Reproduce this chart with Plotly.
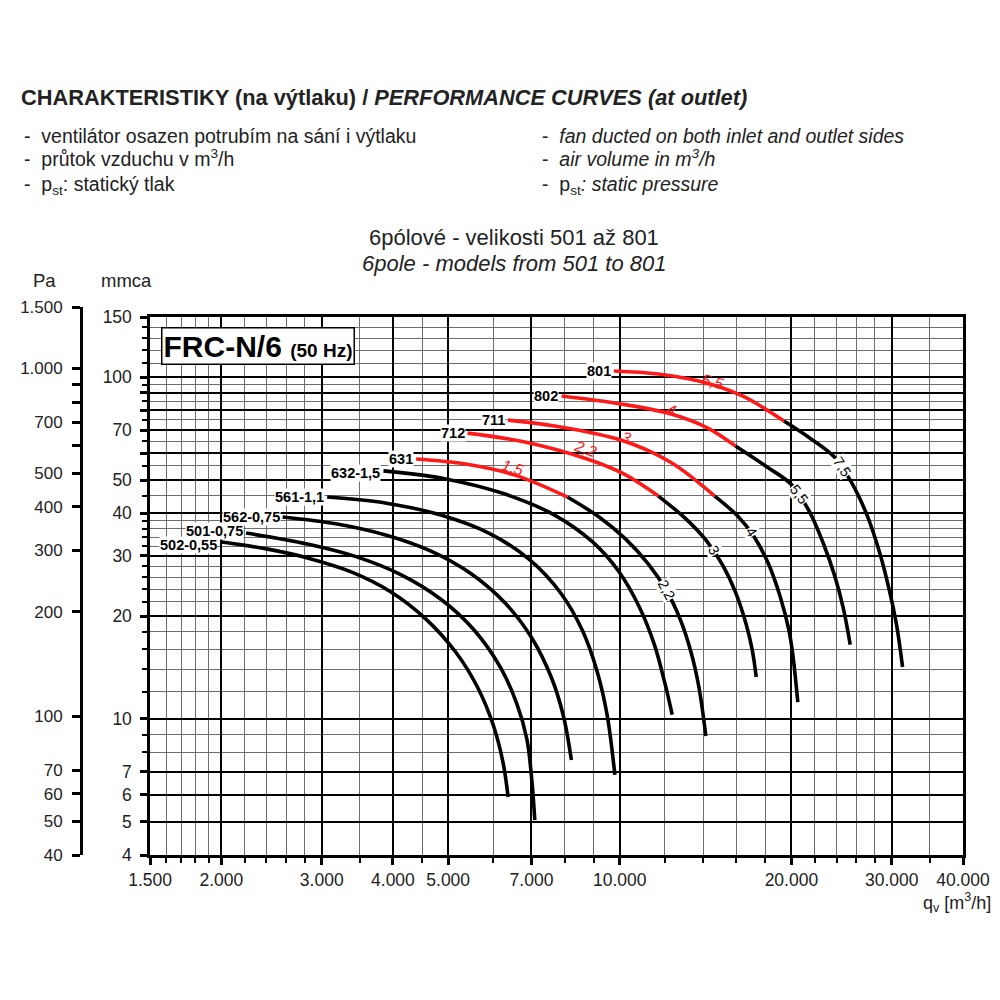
import math
import plotly.graph_objects as go

# ---------------- data (q in m3/h, p in mmca) ----------------
q_502 = [1992, 2413, 2831, 3388, 3975, 4571, 5153, 5627, 5998, 6242, 6369]
p_502 = [33.0, 31.4, 29.6, 26.9, 23.5, 19.6, 15.7, 12.4, 9.6, 7.44, 5.91]

q_501 = [2210, 2831, 3456, 4137, 4854, 5537, 6168, 6601, 6870, 7009, 7094]
p_501 = [35.0, 32.5, 29.8, 26.4, 22.4, 18.3, 14.2, 11.06, 8.74, 6.63, 5.06]

q_562 = [2562, 3192, 3897, 4664, 5471, 6293, 7009, 7592, 7964, 8224]
p_562 = [39.0, 37.2, 34.5, 31.0, 26.7, 21.85, 17.26, 13.18, 10.2, 7.59]

q_561 = [3067, 3897, 4854, 5926, 6953, 7870, 8592, 9123, 9495, 9804]
p_561 = [44.6, 42.8, 39.5, 34.8, 29.2, 23.4, 18.2, 13.8, 10.34, 6.86]

q_632 = [3850, 4952, 6293, 7684, 8970, 9961, 10830, 11500, 12016, 12357]
p_632 = [53.2, 50.4, 45.5, 39.5, 32.9, 27.0, 21.2, 16.5, 12.6, 10.3]

q_631_red = [4393, 5364, 6549, 8093]
p_631_red = [57.6, 55.7, 51.7, 44.6]
q_631_blk = [8093, 9196, 10243, 11226, 12069, 12760, 13333, 13764, 14156]
p_631_blk = [44.6, 39.0, 33.6, 28.4, 23.8, 19.6, 15.7, 12.4, 8.92]

q_712_red = [5407, 6816, 8766, 10162, 11685]
p_712_red = [68.6, 64.6, 57.6, 52.1, 44.9]
q_712_blk = [11685, 13017, 14156, 15151, 15956, 16674, 17077, 17353]
p_712_blk = [44.9, 38.7, 33.4, 28.2, 23.5, 18.84, 15.9, 13.27]

q_711_red = [6369, 7684, 10041, 12259, 14674]
p_711_red = [74.9, 72.0, 65.5, 56.5, 44.9]
q_711_blk = [14674, 16084, 17214, 18206, 19100, 19799, 20118, 20526]
p_711_blk = [44.9, 39.3, 34.1, 28.6, 22.9, 18.2, 15.4, 11.2]

q_802_red = [7902, 10041, 12308, 14269, 15956]
p_802_red = [88.1, 83.5, 78.0, 71.0, 62.9]
q_802_blk = [15956, 18132, 20039, 21535, 22772, 23794, 24663, 25364]
p_802_blk = [62.9, 54.6, 48.4, 40.3, 32.5, 26.4, 21.1, 16.5]

q_801_red = [9765, 11685, 13986, 16409, 19408]
p_801_red = [104.3, 102.2, 96.8, 88.1, 74.4]
q_801_blk = [19408, 21535, 23794, 25466, 27143, 28476, 29638, 30593, 31336]
p_801_blk = [74.4, 66.4, 58.4, 49.4, 39.5, 31.2, 24.2, 18.8, 14.2]

curve_names = ["502-0,55", "501-0,75", "562-0,75", "561-1,1", "632-1,5",
               "631", "712", "711", "802", "801"]

# motor power labels (kW) along the curves
pow_red_text = ["1,5", "2,2", "3", "4", "5,5"]
pow_red_q = [6497, 8697, 10284, 12308, 14557]
pow_red_p = [54.6, 61.7, 66.8, 80.2, 97.4]

pow_blk_text = ["2,2", "3", "4", "5,5", "7,5"]
pow_blk_q = [12069, 14617, 17008, 20608, 24568]
pow_blk_p = [23.8, 31.2, 35.2, 45.5, 54.6]

# axis ticks
x_major = [1500, 2000, 3000, 4000, 5000, 7000, 10000, 20000, 30000, 40000]
x_major_text = ["1.500", "2.000", "3.000", "4.000", "5.000", "7.000",
                "10.000", "20.000", "30.000", "40.000"]
x_minor = [1600, 1700, 1800, 1900, 2200, 2400, 2600, 2800, 3500, 4500, 6000,
           8000, 9000, 12000, 14000, 16000, 18000, 22000, 24000, 26000, 28000, 35000]

y_major = [4, 5, 6, 7, 10, 20, 30, 40, 50, 60, 70, 80, 90, 100, 150]
y_major_text = ["4", "5", "6", "7", "10", "20", "30", "40", "50", "", "70", "", "", "100", "150"]
y_minor = [8, 9, 12, 14, 16, 18, 22, 24, 26, 28, 32, 34, 36, 38, 45, 55, 65, 75, 85, 95,
           110, 120, 130, 140]

pa_ticks = [40, 50, 60, 70, 100, 200, 300, 400, 500, 600, 700, 800, 900, 1000, 1500]
pa_text = ["40", "50", "60", "70", "100", "200", "300", "400", "500", "", "700", "", "",
           "1.000", "1.500"]

# ---------------- figure ----------------
FONT = "Liberation Sans, Arial, sans-serif"
RED = "#ff1a1a"
TXT = "#222222"
OFF = 8  # page offset of the figure inside the browser window
L, R, T, B = 60 - OFF, 37 + OFF, 307 - OFF, 145 + OFF
W = 1000 - L - R
H = 1000 - T - B


def PX(px):
    return (px - OFF - L) / W


def PY(py):
    return (1000 - B - (py - OFF)) / H


fig = go.Figure()

black_curves = [(q_502, p_502), (q_501, p_501), (q_562, p_562), (q_561, p_561),
                (q_632, p_632), (q_631_blk, p_631_blk), (q_712_blk, p_712_blk),
                (q_711_blk, p_711_blk), (q_802_blk, p_802_blk), (q_801_blk, p_801_blk)]
red_curves = [(q_631_red, p_631_red), (q_712_red, p_712_red), (q_711_red, p_711_red),
              (q_802_red, p_802_red), (q_801_red, p_801_red)]

for q, p in black_curves:
    fig.add_trace(go.Scatter(x=q, y=p, mode="lines",
                             line=dict(color="black", width=3.6, shape="spline", smoothing=1.0),
                             hoverinfo="skip", showlegend=False))
for q, p in red_curves:
    fig.add_trace(go.Scatter(x=q, y=p, mode="lines",
                             line=dict(color=RED, width=3.6, shape="spline", smoothing=1.0),
                             hoverinfo="skip", showlegend=False))

# dummy trace for the Pa axis subplot
fig.add_trace(go.Scatter(x=[0], y=[100], xaxis="x2", yaxis="y2", mode="markers",
                         marker=dict(size=1, opacity=0), hoverinfo="skip", showlegend=False))

annotations = []

starts = [(q_502, p_502), (q_501, p_501), (q_562, p_562), (q_561, p_561), (q_632, p_632),
          (q_631_red, p_631_red), (q_712_red, p_712_red), (q_711_red, p_711_red),
          (q_802_red, p_802_red), (q_801_red, p_801_red)]
name_yshift = [-3, 2, 0, 0, -2, 0, 0, 0, 0, 0]
for name, (q, p), ys in zip(curve_names, starts, name_yshift):
    annotations.append(dict(x=math.log10(q[0]), y=math.log10(p[0]), xref="x", yref="y",
                            text="<b>%s</b>" % name, showarrow=False, xanchor="right",
                            yanchor="middle", xshift=-2, yshift=ys, bgcolor="white",
                            borderpad=0, font=dict(family=FONT, size=14.5, color="black")))

red_angles = [17, 20, 20, 20, 15]
for t, q, p, a in zip(pow_red_text, pow_red_q, pow_red_p, red_angles):
    annotations.append(dict(x=math.log10(q), y=math.log10(p), xref="x", yref="y",
                            text="<i>%s</i>" % t, showarrow=False, textangle=a,
                            font=dict(family=FONT, size=15.5, color=RED)))

blk_angles = [62, 60, 57, 52, 57]
for t, q, p, a in zip(pow_blk_text, pow_blk_q, pow_blk_p, blk_angles):
    annotations.append(dict(x=math.log10(q), y=math.log10(p), xref="x", yref="y",
                            text=t, showarrow=False, textangle=a, bgcolor="white",
                            borderpad=0, font=dict(family=FONT, size=14.5, color="black")))

# FRC box
annotations.append(dict(x=PX(152), y=PY(327), xref="paper", yref="paper", xanchor="left",
                        yanchor="top", showarrow=False, bgcolor="white", bordercolor="black",
                        borderwidth=1.5, borderpad=1,
                        text="<b>FRC-N/6</b> <b><span style='font-size:19px'>(50 Hz)</span></b>",
                        font=dict(family=FONT, size=30, color="black")))

header = [
    (8, 97, "<b>CHARAKTERISTIKY (na výtlaku) / <i>PERFORMANCE CURVES (at outlet)</i></b>", 21.8, "left"),
    (11, 136, "-\u00a0\u00a0ventilátor osazen potrubím na sání i výtlaku", 19.5, "left"),
    (11, 158, "-\u00a0\u00a0průtok vzduchu v m<sup>3</sup>/h", 19.5, "left"),
    (11, 185, "-\u00a0\u00a0p<sub>st</sub>: statický tlak", 19.5, "left"),
    (535, 136, "-\u00a0\u00a0<i>fan ducted on both inlet and outlet sides</i>", 19.5, "left"),
    (535, 158, "-\u00a0\u00a0<i>air volume in m<sup>3</sup>/h</i>", 19.5, "left"),
    (535, 185, "-\u00a0\u00a0p<sub>st</sub><i>: static pressure</i>", 19.5, "left"),
    (509, 238, "6pólové - velikosti 501 až 801", 22, "center"),
    (509, 263, "<i>6pole - models from 501 to 801</i>", 22, "center"),
    (34, 280, "Pa", 18.5, "center"),
    (117, 280, "mmca", 18.5, "center"),
    (993, 902, "q<sub>v</sub> [m<sup>3</sup>/h]", 18, "right"),
]
for px, py, text, size, anchor in header:
    annotations.append(dict(x=PX(px), y=PY(py), xref="paper", yref="paper", text=text,
                            showarrow=False, xanchor=anchor, yanchor="middle",
                            font=dict(family=FONT, size=size, color=TXT)))

fig.update_layout(
    width=1000, height=1000, autosize=False,
    margin=dict(l=L, r=R, t=T, b=B, pad=0),
    paper_bgcolor="white", plot_bgcolor="white",
    showlegend=False,
    font=dict(family=FONT, size=17, color=TXT),
    annotations=annotations,
    xaxis=dict(type="log", domain=[PX(141), 1.0], anchor="y",
               range=[math.log10(1500), math.log10(40000)],
               tickmode="array", tickvals=x_major, ticktext=x_major_text,
               showline=True, linecolor="black", linewidth=2.5, mirror=True,
               ticks="outside", ticklen=7, tickwidth=2.5, tickcolor="black",
               showgrid=True, gridcolor="black", gridwidth=2.2,
               tickfont=dict(family=FONT, size=17.5, color=TXT),
               minor=dict(tickmode="array", tickvals=x_minor, ticks="outside", ticklen=5,
                          tickwidth=1.5, tickcolor="black", showgrid=True,
                          gridcolor="#6e6e6e", gridwidth=1),
               zeroline=False),
    yaxis=dict(type="log", domain=[0, (855 - 317) / H], anchor="x",
               range=[math.log10(4), math.log10(150)],
               tickmode="array", tickvals=y_major, ticktext=y_major_text,
               showline=True, linecolor="black", linewidth=2.5, mirror=True,
               ticks="outside", ticklen=7, tickwidth=2.5, tickcolor="black",
               showgrid=True, gridcolor="black", gridwidth=2.2,
               ticklabelstandoff=5,
               tickfont=dict(family=FONT, size=17.5, color=TXT),
               minor=dict(tickmode="array", tickvals=y_minor, ticks="outside", ticklen=5,
                          tickwidth=1.5, tickcolor="black", showgrid=True,
                          gridcolor="#6e6e6e", gridwidth=1),
               zeroline=False),
    xaxis2=dict(domain=[PX(73), PX(74)], anchor="y2", visible=False, range=[0, 1]),
    yaxis2=dict(type="log", domain=[0, 1], anchor="x2", side="left",
                range=[math.log10(40), math.log10(1500)],
                tickmode="array", tickvals=pa_ticks, ticktext=pa_text,
                showline=True, linecolor="black", linewidth=2.5,
                ticks="outside", ticklen=8, tickwidth=2.5, tickcolor="black",
                ticklabelstandoff=6,
                showgrid=False, zeroline=False,
                tickfont=dict(family=FONT, size=17, color=TXT)),
)

fig.write_html("out.html")
